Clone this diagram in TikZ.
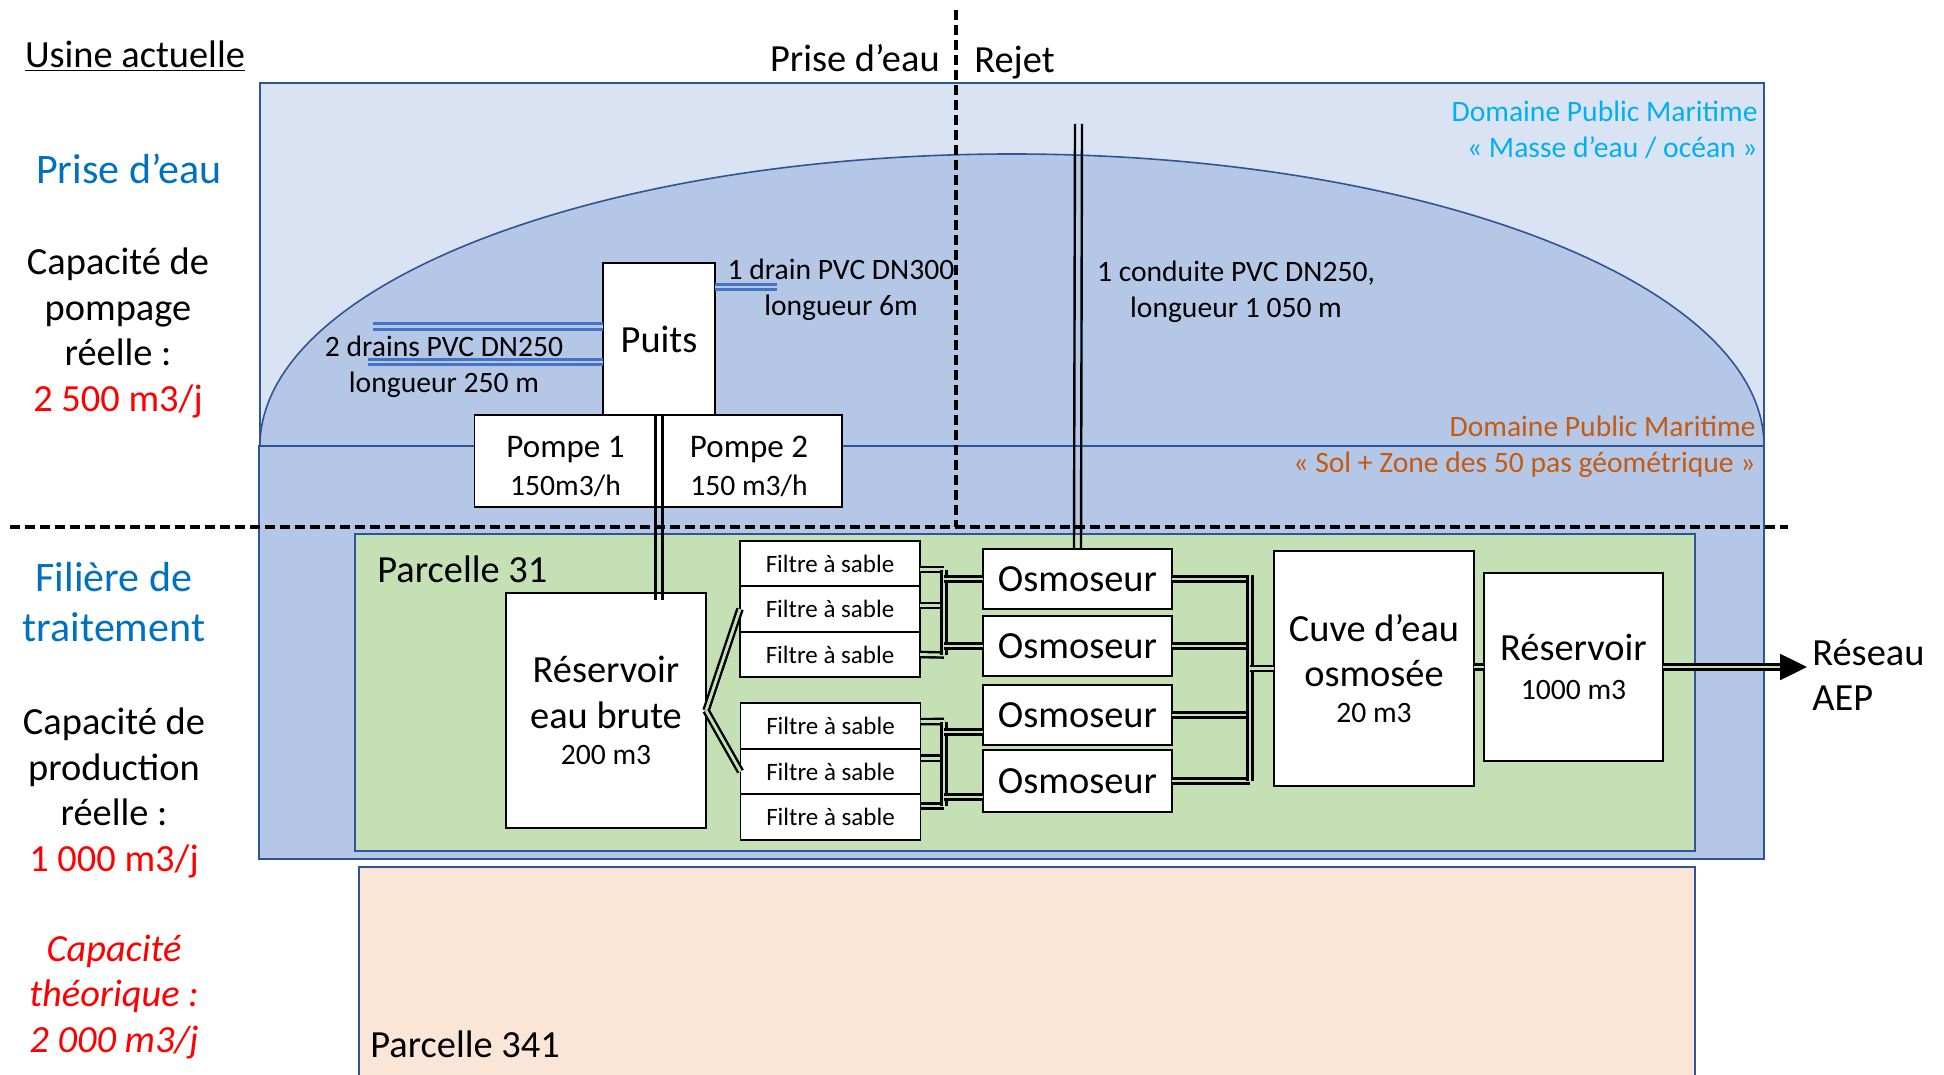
\documentclass[tikz,border=0pt]{standalone}
\usepackage{fontspec}
\setmainfont{Carlito}
\usetikzlibrary{arrows.meta}
\definecolor{merclair}{HTML}{DAE3F3}
\definecolor{merfonce}{HTML}{B4C7E7}
\definecolor{bord}{HTML}{2F5597}
\definecolor{vert}{HTML}{C5E0B4}
\definecolor{saumon}{HTML}{FBE5D6}
\definecolor{drain}{HTML}{4472C4}
\definecolor{titre}{HTML}{0070C0}
\definecolor{cyanmer}{HTML}{00B0F0}
\definecolor{orangesol}{HTML}{C55A11}
\newcommand{\fgrand}{\fontsize{21}{25}\selectfont}
\newcommand{\fbig}{\fontsize{19.2}{22.7}\selectfont}
\newcommand{\fmid}{\fontsize{16.5}{20}\selectfont}
\newcommand{\fnorm}{\fontsize{14.8}{18}\selectfont}
\newcommand{\fpetit}{\fontsize{12.5}{15}\selectfont}
\tikzset{
  zone/.style={draw=bord,line width=0.8pt},
  boite/.style 2 args={draw=black,fill=white,line width=0.9pt,inner sep=0pt,outer sep=0pt,
    align=center,font=\fbig,minimum width=#1*0.5pt,minimum height=#2*0.5pt},
  lbl/.style={inner sep=0pt,align=center,font=\fbig},
  pipe/.style={draw=black,line width=1.2pt,double=#1,double distance=1.4pt},
  pipe/.default=vert,
  fil/.style={draw=black,line width=1.2pt},
  pipeb/.style={draw=drain,line width=1.4pt,double=merfonce,double distance=1.3pt},
  limite/.style={draw=black,line width=1.7pt,dash pattern=on 5pt off 2.5pt},
}
\begin{document}
\begin{tikzpicture}[x=0.5pt,y=-0.5pt]
  \useasboundingbox (0,0) rectangle (1944,1075);
  % Zones
  \path[zone,fill=merclair] (260,83) rectangle (1764,446);
  \path[zone,fill=merfonce] (260,446) arc[start angle=180,end angle=360,x radius=752,y radius=292] -- cycle;
  \path[zone,fill=merfonce] (259,446) rectangle (1764,859);
  \path[zone,fill=vert] (355,534) rectangle (1695,851);
  \path[zone,fill=saumon] (359,867) rectangle (1695,1090);
  % Boxes
  \node[boite={112}{152}] (puits) at (659,339) {Puits};
  \node[boite={182}{92},font=\fmid] (pompeA) at (565.5,461) {\rule{0pt}{16pt}Pompe 1\\[-1.2pt]\fnorm 150m3/h};
  \node[boite={186}{92},font=\fmid] (pompeB) at (749,461) {\rule{0pt}{16pt}Pompe 2\\[-1.2pt]\fnorm 150 m3/h};
  \node[boite={200}{235}] (brute) at (606,710.5) {Réservoir\\eau brute\\[-4.5pt]\fnorm 200 m3};
  \node[boite={180}{45.5},font=\fpetit] (filtreA) at (830,563.5) {Filtre à sable};
  \node[boite={180}{45.5},font=\fpetit] (filtreB) at (830,609) {Filtre à sable};
  \node[boite={180}{45.5},font=\fpetit] (filtreC) at (830,654.5) {Filtre à sable};
  \node[boite={180}{45.5},font=\fpetit] (filtreD) at (830.5,726) {Filtre à sable};
  \node[boite={180}{45.5},font=\fpetit] (filtreE) at (830.5,771.5) {Filtre à sable};
  \node[boite={180}{45.5},font=\fpetit] (filtreF) at (830.5,817) {Filtre à sable};
  \node[boite={189}{60}] (osmoA) at (1077.5,579) {Osmoseur};
  \node[boite={189}{60}] (osmoB) at (1077.5,646) {Osmoseur};
  \node[boite={189}{60}] (osmoC) at (1077.5,715) {Osmoseur};
  \node[boite={189}{62}] (osmoD) at (1077.5,781) {Osmoseur};
  \node[boite={200}{235}] (cuve) at (1374,668.5) {Cuve d’eau\\osmosée\\[-5pt]\fnorm 20 m3};
  \node[boite={179}{188}] (reservoir) at (1573.5,667) {Réservoir\\[-3.5pt]\fnorm 1000 m3};
  % Pipes, pumps and sea
  \coordinate (prise) at (1078.5,124);
  \foreach \dx in {-3.5,3.5} {
    \draw[fil] ([xshift=\dx*0.5pt]puits.south) -- ++(0,185);
    \draw[fil] ([xshift=\dx*0.5pt]osmoA.north) -- ([xshift=\dx*0.5pt]prise);
  }
  \coordinate (drainA) at (373,326.5);
  \coordinate (drainB) at (368,362);
  \coordinate (drainC) at (777,287);
  \draw[pipeb] (puits.west |- drainA) -- (drainA);
  \draw[pipeb] (puits.west |- drainB) -- (drainB);
  \draw[pipeb] (puits.east |- drainC) -- (drainC);
  % Sand filters
  \draw[pipe] (brute.east) -- (filtreB.west);
  \draw[pipe] (brute.east) -- (filtreE.west);
  \coordinate (colA) at (944,569.5);
  \coordinate (colB) at (944,655);
  \coordinate (colC) at (944,721.5);
  \coordinate (colD) at (944,806);
  \draw[pipe] ([yshift=-3pt]filtreA.east) -- (colA);
  \draw[pipe] ([yshift=1.7pt]filtreB.east) -- ++(20,0);
  \draw[pipe] (filtreC.east) -- (colB);
  \draw[pipe] ([yshift=2.2pt]filtreD.east) -- (colC);
  \draw[pipe] ([yshift=6.7pt]filtreE.east) -- ++(20,0);
  \draw[pipe] ([yshift=5.5pt]filtreF.east) -- (colD);
  \draw[pipe] (colA) -- (colB);
  \draw[pipe] (colC) -- (colD);
  \draw[pipe] (osmoA.west) -- (osmoA.west -| colA);
  \draw[pipe] (osmoB.west) -- (osmoB.west -| colA);
  \draw[pipe] ([yshift=-8.5pt]osmoC.west) -- ++(-39,0);
  \draw[pipe] ([yshift=-8pt]osmoD.west) -- ++(-39,0);
  % Outlet
  \coordinate (colS) at (1250,575);
  \coordinate (colT) at (1250,781);
  \draw[pipe] (osmoA.east) -- (osmoA.east -| colS);
  \draw[pipe] (osmoB.east) -- (osmoB.east -| colS);
  \draw[pipe] (osmoC.east) -- (osmoC.east -| colS);
  \draw[pipe] (osmoD.east) -- (osmoD.east -| colS);
  \draw[pipe] (colS) -- (colT);
  \draw[pipe] (cuve.west) -- (cuve.west -| colS);
  \draw[pipe] (cuve.east |- reservoir.west) -- (reservoir.west);
  \coordinate (sortie) at (1807,667);
  \draw[pipe=vert,-{Triangle[width=13pt,length=13.5pt]}] (reservoir.east) -- (sortie);
  % Limits
  \coordinate (limA) at (956,10);
  \coordinate (limB) at (956,527);
  \coordinate (limC) at (10,527);
  \coordinate (limD) at (1788,527);
  \draw[limite] (limA) -- (limB);
  \draw[limite] (limC) -- (limD);
  % Left column
  \node[lbl] (usine) at (135,56) {\underline{Usine actuelle}};
  \node[lbl,text=titre,font=\fgrand] (prisetitre) at (129,168.5) {Prise d’eau};
  \node[lbl] (pompage) at (118,333) {Capacité de\\pompage\\réelle :\\\color{red}2 500 m3/j};
  \node[lbl,text=titre,font=\fgrand] (filiere) at (114,602.5) {Filière de\\traitement};
  \node[lbl] (production) at (114,793) {Capacité de\\production\\réelle :\\\color{red}1 000 m3/j};
  \node[lbl,text=red,font=\fbig\itshape] (theorique) at (114,997) {Capacité\\théorique :\\2 000 m3/j};
  % Labels
  \node[lbl,anchor=east] (prisehaut) at (940,58) {Prise d’eau};
  \node[lbl,anchor=west] (rejet) at (974,62.5) {Rejet};
  \node[lbl,anchor=east,text=cyanmer,align=right,font=\fnorm] (dpmA) at (1758,130) {Domaine Public Maritime\\« Masse d’eau / océan »};
  \node[lbl,anchor=east,text=orangesol,align=right,font=\fnorm] (dpmB) at (1756,447) {Domaine Public Maritime\\« Sol + Zone des 50 pas géométrique »};
  \node[lbl,font=\fnorm] (labelA) at (841,289.5) {1 drain PVC DN300\\longueur 6m};
  \node[lbl,font=\fnorm] (labelB) at (444,366.5) {2 drains PVC DN250\\longueur 250 m};
  \node[lbl,font=\fnorm] (labelC) at (1236,292) {1 conduite PVC DN250,\\longueur 1 050 m};
  \node[lbl,anchor=west] (parcelleA) at (377,569) {Parcelle 31};
  \node[lbl,anchor=west] (parcelleB) at (370,1044) {Parcelle 341};
  \node[lbl,align=left,anchor=west] (aep) at (1812,675) {Réseau\\AEP};
\end{tikzpicture}
\end{document}
